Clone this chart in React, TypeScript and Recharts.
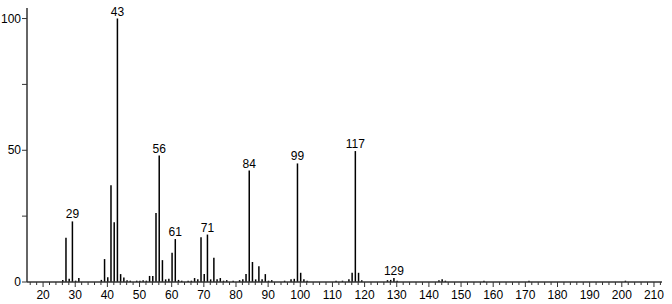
import { BarChart, Bar, XAxis, YAxis, LabelList } from 'recharts';

// m/z and relative intensity (%)
const mzValues = [
  26, 27, 28, 29, 30, 31, 38, 39, 40, 41, 42, 43, 44, 45, 46, 47, 49, 50, 51, 52,
  53, 54, 55, 56, 57, 58, 59, 60, 61, 62, 63, 65, 66, 67, 68, 69, 70, 71, 72, 73,
  74, 75, 76, 77, 79, 81, 82, 83, 84, 85, 86, 87, 88, 89, 90, 91, 95, 97, 98, 99,
  100, 101, 102, 111, 113, 115, 116, 117, 118, 119, 127, 128, 129, 130, 143, 144, 145, 157, 171, 201,
];
const intensities = [
  0.8, 16.8, 1.2, 23, 0.5, 1.5, 0.8, 8.7, 1.8, 36.7, 22.7, 100, 3, 1.7, 0.7, 0.5, 0.5, 0.5, 0.7, 0.5,
  2.3, 2.3, 26.2, 48, 8.3, 1, 1.2, 11.1, 16.3, 0.8, 0.5, 0.5, 0.5, 1.5, 1, 17, 3, 18, 1, 9.2,
  1, 1.5, 0.5, 0.7, 0.5, 0.7, 1, 3, 42.3, 7.6, 1, 6, 1, 3, 0.5, 0.7, 0.5, 1, 1.2, 45,
  3.5, 1, 0.5, 0.5, 0.5, 1, 3.5, 49.7, 3.5, 0.7, 0.7, 0.8, 1.5, 0.5, 0.7, 1, 0.5, 0.5, 0.5, 0.5,
];
const labeledPeaks = [29, 43, 56, 61, 71, 84, 99, 117, 129];

const xLabels = [20, 30, 40, 50, 60, 70, 80, 90, 100, 110, 120, 130, 140, 150, 160, 170, 180, 190, 200, 210];
const yTicks = [0, 25, 50, 75, 100];
const yLabels = [0, 50, 100];

// minor ticks every 2 m/z, labels every 10
const xTicks: number[] = [];
for (let v = 16; v <= 212; v += 2) xTicks.push(v);

const data = mzValues.map((mz, i) => ({ mz, intensity: intensities[i] }));

const FONT = '"Liberation Sans", Arial, sans-serif';
const AXIS = '#333';

function Stick(props: any) {
  const { x, y, width, height } = props;
  const cx = x + width / 2;
  return <line x1={cx} x2={cx} y1={y} y2={y + height} stroke="#000" strokeWidth={1.5} />;
}

function PeakLabel(props: any) {
  const { x, y, width, value } = props;
  if (!labeledPeaks.includes(value)) return null;
  return (
    <text x={x + width / 2} y={y - 3} textAnchor="middle" fontSize={12} fill="#000" fontFamily={FONT}>
      {value}
    </text>
  );
}

function XTick(props: any) {
  const { x, y, payload } = props;
  const major = xLabels.includes(payload.value);
  return (
    <g>
      <line x1={x} x2={x} y1={y} y2={y + (major ? 5 : 3)} stroke={AXIS} strokeWidth={1} />
      {major && (
        <text x={x} y={y + 17} textAnchor="middle" fontSize={12} fill="#000" fontFamily={FONT}>
          {payload.value}
        </text>
      )}
    </g>
  );
}

function YTick(props: any) {
  const { x, y, payload } = props;
  if (!yLabels.includes(payload.value)) return null;
  return (
    <text x={x} y={y + 4} textAnchor="end" fontSize={12} fill="#000" fontFamily={FONT}>
      {payload.value}
    </text>
  );
}

export default function App() {
  return (
    <div style={{ position: 'absolute', left: 0, top: 0, background: '#fff' }}>
      <BarChart width={672} height={304} data={data}
        margin={{ top: 8, right: 10, bottom: 0, left: 0 }} barSize={2}>
        <XAxis dataKey="mz" type="number" domain={[15, 212.5]} ticks={xTicks} interval={0}
          allowDataOverflow height={22} tickLine={false} tickSize={0} tickMargin={0}
          axisLine={{ stroke: AXIS, strokeWidth: 1.5 }} tick={<XTick />} />
        <YAxis type="number" domain={[0, 104]} ticks={yTicks} interval={0} width={27}
          tickSize={5} tickMargin={1} tickLine={{ stroke: AXIS }}
          axisLine={{ stroke: AXIS, strokeWidth: 1.5 }} tick={<YTick />} />
        <Bar dataKey="intensity" shape={<Stick />} isAnimationActive={false}>
          <LabelList dataKey="mz" content={<PeakLabel />} />
        </Bar>
      </BarChart>
    </div>
  );
}
